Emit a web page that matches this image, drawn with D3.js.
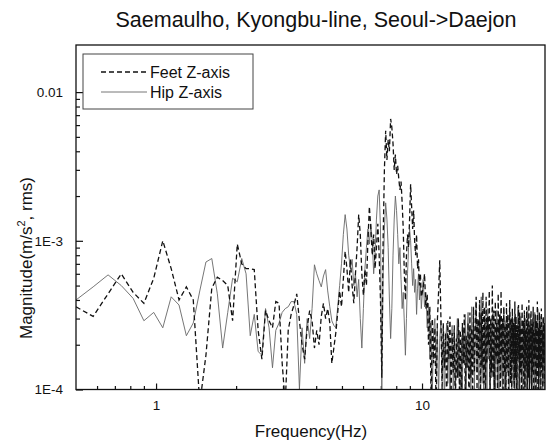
<!DOCTYPE html>
<html><head><meta charset="utf-8">
<script src="https://cdn.jsdelivr.net/npm/d3@7/dist/d3.min.js"></script>
<style>
body{margin:0;background:#fff}
text{font-family:"Liberation Sans",Arial,Helvetica,sans-serif;fill:#111}
</style>
</head><body>
<svg id="chart" width="548" height="444"></svg>
<script>
// ---------- data (magnitudes in units of 1E-4 m/s², rms) ----------
const title = "Saemaulho, Kyongbu-line, Seoul->Daejon";
const seriesNames = ["Feet Z-axis", "Hip Z-axis"];
const xTickValues = [1, 10];
const xTickLabels = ["1", "10"];
const xMinorTicks = [0.6, 0.7, 0.8, 0.9, 2, 3, 4, 5, 6, 7, 8, 9, 20];
const yTickValues = [1, 10, 100];
const yTickLabels = ["1E-4", "1E-3", "0.01"];
const yMinorTicks = [2, 3, 4, 5, 6, 7, 8, 9, 20, 30, 40, 50, 60, 70, 80, 90];

const lowStart = 0.5, lowStep = 0.08;    // Hz, 0.50 .. 9.94
const highStart = 10.1, highStep = 0.12; // Hz, 10.10 .. 28.94

const feetLow = [
 3.6,3.1,4.4,6.0,4.5,3.8,5.6,10,6.5,4.0,
 4.9,4.0,0.8,1.7,4.8,5.7,5.4,5.0,2.9,9.5,
 7.0,6.5,6.5,6.4,2.5,1.6,3.4,2.9,2.6,3.9,
 3.8,1.5,0.8,2.5,3.2,3.7,4.4,2.9,2.0,1.6,
 2.6,3.4,2.9,1.9,2.5,2.0,3.1,3.8,3.0,3.5,
 2.8,1.5,1.9,2.4,3.3,4.6,3.6,5.5,8.5,6.5,
 4.5,7.5,5.0,3.8,6.0,9.0,15,11,6.0,4.3,
 6.4,5.0,10,17,12,8.0,11,6.5,9.0,13,
 8.0,4.0,1.2,10,30,55,35,48,40,66,
 58,45,30,38,28,32,26,22,25,18,
 12,6.0,4.0,8.0,11,9.0,14,24,17,12,
 16,10,8.0,11,6.5,7.5,5.0,6.0,4.2];
const hipLow = [
 4.0,4.9,5.9,5.0,4.1,2.9,3.3,2.6,4.2,3.7,
 2.3,2.8,4.6,7.2,7.6,4.4,1.9,3.3,5.6,5.3,
 7.6,6.0,2.3,3.2,1.8,1.7,3.5,2.6,1.4,2.5,
 2.8,3.3,3.5,3.6,3.9,3.9,3.2,1.0,2.6,1.5,
 3.0,2.2,3.5,6.9,6.0,5.4,4.9,5.8,6.4,4.6,
 3.6,2.9,2.7,2.6,3.6,5.0,7.0,11,15,12,
 8.0,6.5,7.5,5.0,6.0,4.2,5.5,3.0,1.9,3.5,
 6.5,9.0,12,9.5,13,10,6.0,8.5,14,20,
 22,12,1.0,6.0,12,18,14,9.0,4.0,2.2,
 3.5,8.0,14,20,16,11,7.0,9.0,5.5,3.5,
 4.5,2.8,1.7,3.0,6.0,9.0,12,10,7.0,5.0,
 6.5,4.5,5.5,3.2,4.8,6.0,4.0,5.2,3.5];
const feetHigh = [
 4.8,6.0,3.5,4.4,2.0,3.6,0.8,3.0,1.5,2.6,
 0.7,2.9,4.5,7.4,3.0,1.0,2.8,1.4,2.4,0.8,
 2.9,1.6,3.1,0.9,2.4,1.3,2.7,0.7,2.2,1.2,
 3.0,1.0,2.5,0.8,2.8,1.5,3.2,0.9,2.3,1.4,
 2.8,0.7,3.3,1.2,2.6,0.9,3.6,1.3,2.5,4.2,
 1.0,3.0,1.6,4.0,0.8,3.3,1.4,4.5,1.1,3.6,
 0.8,4.2,1.5,3.1,2.0,4.6,0.9,3.0,1.3,5.0,
 1.2,3.4,0.8,3.9,1.6,2.8,1.0,4.4,1.5,3.2,
 0.8,4.6,1.7,3.0,1.0,3.6,1.3,2.7,0.8,3.8,
 1.4,3.2,1.0,2.6,4.0,1.1,3.0,0.8,3.5,1.5,
 2.8,0.9,3.9,1.2,3.1,0.8,2.7,1.6,3.7,1.0,
 3.3,1.3,2.6,0.8,3.8,1.5,2.9,1.0,3.4,0.9,
 2.5,1.4,3.6,0.8,3.0,1.2,4.0,1.0,2.7,1.5,
 3.4,0.8,2.8,1.3,3.6,0.9,2.4,1.6,3.2,0.8,
 2.9,1.2,3.9,1.0,2.6,0.8,3.3,1.4,2.7,1.0,
 3.5,1.3,2.5,0.8,3.1,1.5,2.8,1.1];
const hipHigh = [
 5.5,3.6,4.5,2.6,3.8,1.6,2.9,1.0,2.5,3.0,
 1.3,2.6,0.9,2.2,2.9,1.2,2.5,0.8,2.0,2.8,
 1.1,2.3,0.7,1.9,2.7,1.0,2.4,0.9,2.1,3.0,
 1.2,2.5,0.8,2.2,1.0,2.6,1.5,3.2,0.9,2.4,
 3.3,1.2,2.7,0.8,3.6,1.6,3.0,1.0,2.5,3.8,
 1.3,2.9,0.8,3.3,1.8,4.2,1.1,2.6,0.8,3.1,
 1.4,2.8,0.9,3.5,1.6,2.6,0.8,3.0,1.2,2.4,
 3.3,1.0,2.7,0.7,2.3,3.4,1.1,2.8,0.9,2.5,
 3.2,1.2,2.6,0.7,2.2,3.5,1.0,2.9,0.8,2.4,
 3.1,1.3,2.5,0.9,3.3,1.6,2.7,0.8,2.3,3.0,
 1.1,2.6,0.8,3.2,1.4,2.4,1.0,3.6,1.7,2.8,
 0.9,2.5,3.1,1.2,2.2,0.7,2.9,1.5,2.6,1.0,
 3.0,1.3,2.4,0.8,3.4,1.6,2.7,0.9,2.2,3.2,
 1.1,2.6,0.8,3.0,1.4,2.5,0.7,3.3,1.2,2.4,
 1.0,2.9,1.5,3.5,0.8,2.3,1.2,2.8,0.9,3.1,
 1.4,2.6,0.8,3.0,1.1,2.4,0.9,2.7];

// ---------- layout ----------
const L = 76, R = 545, T = 45, B = 389.5;
const svg = d3.select("#chart");

const freq = [
  ...feetLow.map((_, i) => +(lowStart + i * lowStep).toFixed(2)),
  ...feetHigh.map((_, j) => +(highStart + j * highStep).toFixed(2))
];
const feet = feetLow.concat(feetHigh);
const hip = hipLow.concat(hipHigh);

const x = d3.scaleLog().domain([0.5, 29]).range([L, R]);
const y = d3.scaleLog().domain([1, 207.4]).range([B, T]);

svg.append("defs").append("clipPath").attr("id", "clip")
  .append("rect").attr("x", L).attr("y", T).attr("width", R - L).attr("height", B - T);

// title
svg.append("text").attr("x", 316).attr("y", 27).attr("text-anchor", "middle")
  .style("font-size", "21.5px").text(title);

// axes ticks (inside)
const gx = svg.append("g").attr("transform", `translate(0,${B})`);
gx.call(d3.axisBottom(x).tickValues(xTickValues).tickSizeInner(-6).tickSizeOuter(0)
  .tickPadding(11).tickFormat((d, i) => xTickLabels[i]));
const gxm = svg.append("g").attr("transform", `translate(0,${B})`);
gxm.call(d3.axisBottom(x).tickValues(xMinorTicks).tickSizeInner(-3.5).tickSizeOuter(0).tickFormat(""));

const gy = svg.append("g").attr("transform", `translate(${L},0)`);
gy.call(d3.axisLeft(y).tickValues(yTickValues).tickSizeInner(-7).tickSizeOuter(0)
  .tickPadding(13).tickFormat((d, i) => yTickLabels[i]));
const gym = svg.append("g").attr("transform", `translate(${L},0)`);
gym.call(d3.axisLeft(y).tickValues(yMinorTicks).tickSizeInner(-4).tickSizeOuter(0).tickFormat(""));

[gx, gxm, gy, gym].forEach(g => {
  g.select(".domain").remove();
  g.selectAll("line").attr("stroke", "#111").attr("stroke-width", 1.2);
  g.selectAll("text").style("font-size", "13.5px").attr("fill", "#222");
});

// lines
const line = d3.line().x((d, i) => x(freq[i])).y(d => y(d));
const plot = svg.append("g").attr("clip-path", "url(#clip)");
plot.append("path").datum(hip).attr("d", line)
  .attr("fill", "none").attr("stroke", "#666").attr("stroke-width", 0.9);
plot.append("path").datum(feet).attr("d", line)
  .attr("fill", "none").attr("stroke", "#111").attr("stroke-width", 1.3)
  .attr("stroke-dasharray", "5,3");

// frame
svg.append("rect").attr("x", L).attr("y", T).attr("width", R - L).attr("height", B - T)
  .attr("fill", "none").attr("stroke", "#111").attr("stroke-width", 1.3);

// legend
const lg = svg.append("g");
lg.append("rect").attr("x", 83).attr("y", 54).attr("width", 170).attr("height", 55)
  .attr("fill", "#fff").attr("stroke", "#444").attr("stroke-width", 1);
const legendRows = [
  {name: seriesNames[0], y: 72, stroke: "#111", w: 1.3, dash: "5,3"},
  {name: seriesNames[1], y: 92, stroke: "#666", w: 0.9, dash: null}
];
legendRows.forEach(r => {
  lg.append("line").attr("x1", 101).attr("x2", 147).attr("y1", r.y).attr("y2", r.y)
    .attr("stroke", r.stroke).attr("stroke-width", r.w).attr("stroke-dasharray", r.dash);
  lg.append("text").attr("x", 150).attr("y", r.y + 5.5).style("font-size", "16px").text(r.name);
});

// axis titles
svg.append("text").attr("x", 311).attr("y", 437).attr("text-anchor", "middle")
  .style("font-size", "17px").text("Frequency(Hz)");
const yl = svg.append("text").attr("transform", "translate(32,258) rotate(-90)")
  .attr("text-anchor", "middle").style("font-size", "17px");
yl.append("tspan").text("Magnitude(m/s");
yl.append("tspan").attr("dy", -7).style("font-size", "11px").text("2");
yl.append("tspan").attr("dy", 7).text(", rms)");
</script>
</body></html>
